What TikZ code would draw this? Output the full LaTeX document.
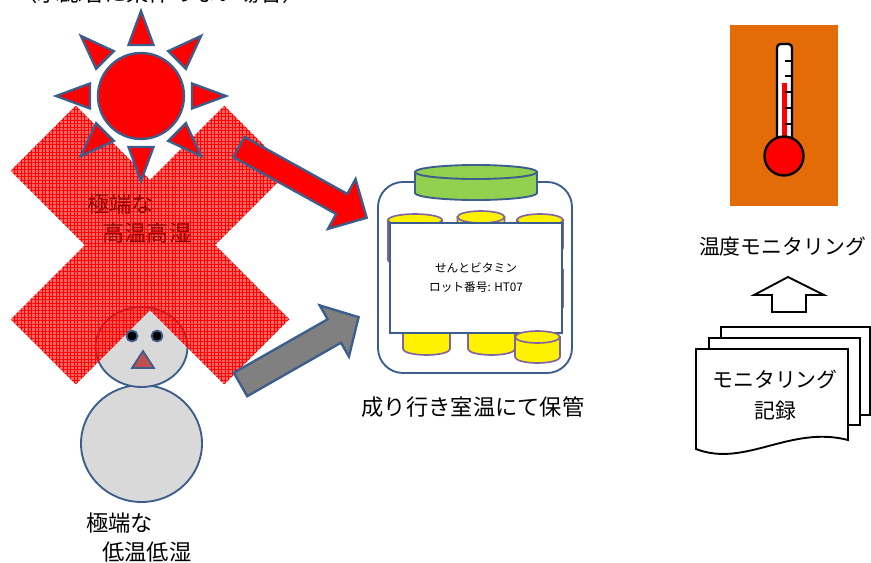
\documentclass[tikz,border=0pt]{standalone}
\usepackage{fontspec}
\setmainfont{Noto Sans CJK JP}
\usetikzlibrary{patterns.meta}

\definecolor{shapeblue}{HTML}{3B5E8C}
\definecolor{nosered}{HTML}{C0504D}
\definecolor{lidgreen}{HTML}{92D050}
\definecolor{canpurple}{HTML}{8064A2}
\definecolor{panelorange}{HTML}{E36C09}
\definecolor{snowgray}{HTML}{D9D9D9}
\definecolor{darkmaroon}{HTML}{8C0000}

\tikzset{
  outlined/.style={draw=shapeblue, line width=2pt},
  sunpart/.style={outlined, fill=red},
  snow/.style={draw=shapeblue, line width=1.6pt, fill=snowgray},
  can/.style={fill=yellow, draw=canpurple, line width=1.4pt},
  sheet/.style={fill=white, draw=black, line width=1.6pt},
  bigtext/.style={font=\fontsize{19pt}{24.7pt}\selectfont, inner sep=0pt},
  sidetext/.style={font=\fontsize{17.8pt}{26.4pt}\selectfont, inner sep=0pt},
}

% block arrow along +x: length, half shaft, half head, head length
\newcommand\fatarrow[4]{%
  (0,-#2) -- (#1-#4,-#2) -- (#1-#4,-#3) -- (#1,0) -- (#1-#4,#3) -- (#1-#4,#2) -- (0,#2) -- cycle}

% can: centre x, top y, height, half width
\newcommand\cylinder[4]{%
  \filldraw[can] (#1-#4,#2) -- (#1-#4,#2+#3) arc[start angle=180, end angle=0, x radius=#4, y radius=6] -- (#1+#4,#2) -- cycle;
  \filldraw[can] (#1,#2) ellipse[x radius=#4, y radius=6];}

\begin{document}
\begin{tikzpicture}[x=0.03cm, y=-0.03cm]
  \useasboundingbox (0,0) rectangle (871,563);

  \node[bigtext, anchor=base] (title) at (160,2) {（承認者に条件のない場合）};

  % snowman
  \filldraw[snow] (141.5,443.5) ellipse[x radius=60.5, y radius=58.5];
  \filldraw[snow] (141.5,347) ellipse[x radius=46, y radius=40];

  % hatched cross
  \begin{scope}[shift={(150,245)}]
    \path[fill=red, fill opacity=0.6,
          postaction={pattern={Hatch[angle=0, distance=3pt, line width=0.45pt]}, pattern color=red}]
      (0,-65) -- (74.3,-139.3) -- (139.3,-74.3) -- (65,0) -- (139.3,74.3) -- (74.3,139.3)
      -- (0,65) -- (-74.3,139.3) -- (-139.3,74.3) -- (-65,0) -- (-139.3,-74.3) -- (-74.3,-139.3) -- cycle;
  \end{scope}

  % face
  \filldraw[fill=black, draw=shapeblue, line width=1.5pt] (132,336) circle[radius=5.5];
  \filldraw[fill=black, draw=shapeblue, line width=1.5pt] (157,336) circle[radius=5.5];
  \filldraw[fill=nosered, draw=shapeblue, line width=1.5pt] (143,351) -- (154,368) -- (132,368) -- cycle;

  \node[bigtext, anchor=west, align=left, text=darkmaroon] (hot) at (87,218.5)
    {極端な\\\hspace*{0.45cm}高温高湿};
  \node[bigtext, anchor=west, align=left] (cold) at (86,537.5)
    {極端な\\\hspace*{0.48cm}低温低湿};

  % sun
  \begin{scope}[shift={(141,96)}]
    \foreach \a in {0,45,...,315}
      \filldraw[sunpart, rotate=\a] (51,-12.5) -- (85,0) -- (51,12.5) -- cycle;
    \filldraw[sunpart] (0,0) circle[radius=43];
  \end{scope}

  % arrows into the jar
  \begin{scope}[shift={(239,147)}, rotate=-29]
    \filldraw[outlined, fill=red] \fatarrow{146}{11.5}{28.5}{28.5};
  \end{scope}
  \begin{scope}[shift={(240.5,384.5)}, rotate=29.7]
    \filldraw[outlined, fill=gray] \fatarrow{136}{13.5}{29.5}{28};
  \end{scope}

  % jar with cans
  \draw[draw=shapeblue, line width=1.6pt, fill=white, rounded corners=0.75cm] (378,182) rectangle (572,373);
  \filldraw[fill=lidgreen, draw=shapeblue, line width=1.6pt]
    (415,172) -- (415,193) arc[start angle=180, end angle=0, x radius=61, y radius=7] -- (537,172) -- cycle;
  \filldraw[fill=lidgreen, draw=shapeblue, line width=1.6pt] (476,172) ellipse[x radius=61, y radius=7];
  \cylinder{415}{220}{40}{27}
  \cylinder{481}{217}{40}{23.5}
  \cylinder{540}{220}{28}{23}
  \cylinder{540}{270}{37}{23}
  \cylinder{426.5}{300}{49}{23.5}
  \cylinder{491.5}{300}{49}{23.5}
  \node[draw=shapeblue, line width=2pt, fill=white, minimum width=5.16cm, minimum height=3.3cm,
        align=center, font=\fontsize{10pt}{16pt}\selectfont] (label) at (476,278)
    {せんとビタミン\\ロット番号: HT07};
  \cylinder{537.5}{337}{20}{22.5}

  \node[bigtext] (store) at (473,407) {成り行き室温にて保管};

  % thermometer panel
  \fill[panelorange] (730,25) rectangle (838,206);
  \draw[fill=white, line width=2pt, rounded corners=3pt] (777,44) rectangle (792,145);
  \fill[red] (782,83) rectangle (787,145);
  \foreach \y in {61,76,92,108,124}
    \draw[line width=1pt] (785,\y) -- (792,\y);
  \filldraw[fill=red, draw=black, line width=2pt] (784,156) circle[radius=19.5];

  \node[sidetext] (monitor) at (782.5,247) {温度モニタリング};

  % hollow up arrow
  \draw[line width=1.6pt, fill=white] (772,312) -- (772,295) -- (754,295) -- (788,277)
    -- (824,295) -- (806,295) -- (806,312) -- cycle;

  % record sheets
  \draw[sheet] (721,327) rectangle (870,415);
  \draw[sheet] (709,338) rectangle (860,425);
  \draw[sheet] (696,449) -- (696,349) -- (848,349) -- (848,440)
    .. controls (790,425) and (745,468) .. (696,449) -- cycle;
  \node[sidetext, align=center] (record) at (775,395.5) {モニタリング\\記録};
\end{tikzpicture}
\end{document}
